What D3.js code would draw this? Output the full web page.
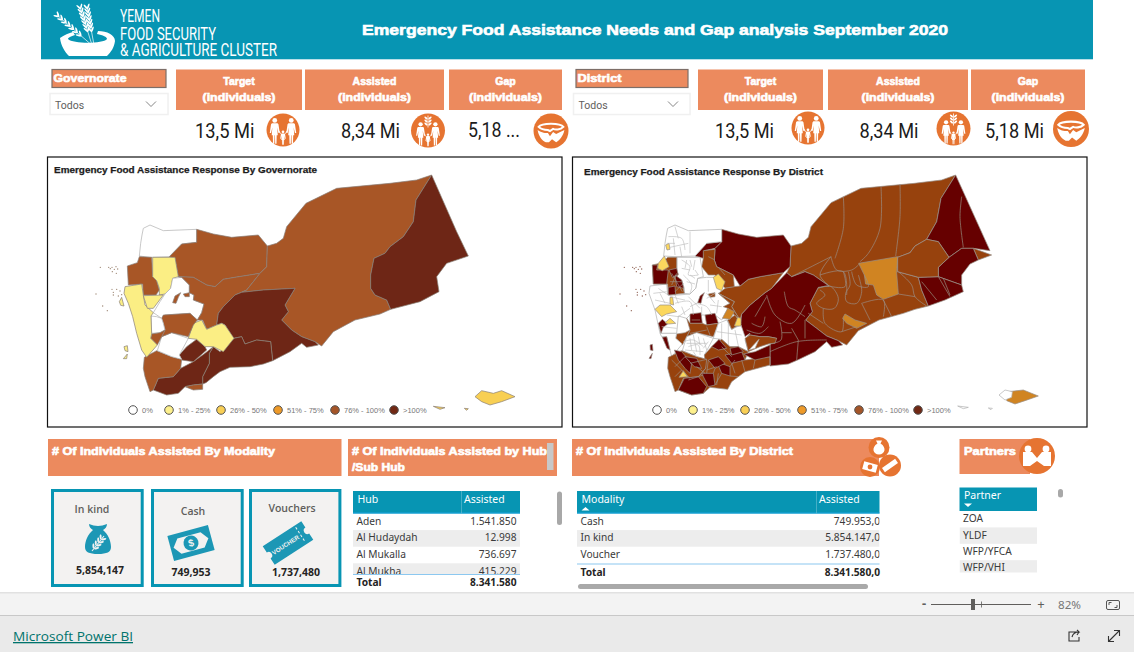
<!DOCTYPE html>
<html><head><meta charset="utf-8">
<script src="https://cdn.jsdelivr.net/npm/d3@7/dist/d3.min.js"></script>
<style>html,body{margin:0;padding:0;background:#fff;overflow:hidden}svg{display:block}</style>
</head><body><svg id="c" width="1134" height="652"><defs><filter id="soft" x="-2%" y="-2%" width="104%" height="104%"><feGaussianBlur stdDeviation="0.35"/></filter></defs></svg>
<script>
const reportTitle = "Emergency Food Assistance Needs and Gap analysis September 2020";
const kpiNames = ["Target","Assisted","Gap"];
const kpiValuesGovernorate = ["13,5 Mi","8,34 Mi","5,18 ..."];
const kpiValuesDistrict = ["13,5 Mi","8,34 Mi","5,18 Mi"];
const modalityCards = ["In kind","Cash","Vouchers"];
const modalityCardValues = [5854147,749953,1737480];
const hubNames = ["Aden","Al Hudaydah","Al Mukalla","Al Mukha"];
const hubValues = [1541850,12998,736697,415229];
const hubTotal = 8341580;
const modalityNames = ["Cash","In kind","Voucher"];
const modalityValues = [749953,5854147,1737480];
const modalityTotal = 8341580;
const partnerNames = ["ZOA","YLDF","WFP/YFCA","WFP/VHI"];
const legendBands = ["0%","1% - 25%","26% - 50%","51% - 75%","76% - 100%",">100%"];

// ---------- map geometry, in map units, band = index in legendBands ----------
const governorateShapes = [
 [0,[280,205,300,195,340,212,440,208,440,247,395,252,358,290,300,292,268,288,272,250,276,225]],
 [4,[440,208,490,222,545,232,625,225,652,258,650,320,630,340,555,352,520,358,495,380,470,375,430,352,385,350,375,295,358,290,395,252,440,247]],
 [4,[268,290,305,292,308,350,320,362,328,390,318,405,280,405,278,372,235,375,232,318,262,308]],
 [1,[308,292,375,292,385,350,368,355,362,385,345,402,328,405,328,385,320,362,308,350]],
 [0,[368,355,395,352,418,375,418,398,432,405,430,420,462,432,455,458,442,480,420,460,345,465,335,475,310,458,330,425,345,402,362,385]],
 [4,[368,428,375,408,392,398,385,412,378,430]],
 [4,[400,402,418,398,418,410,405,410]],
 [4,[385,350,430,352,470,375,495,380,520,358,555,352,630,340,590,390,555,405,520,440,505,460,500,495,470,508,458,480,442,480,455,458,462,432,430,420,432,405,418,398,418,375,395,352]],
 [4,[1145,45,1098,120,1090,185,1060,230,1020,260,1005,280,972,295,962,345,962,385,975,405,1010,420,1022,448,990,462,915,480,850,515,815,558,795,545,755,530,725,510,695,480,715,455,705,435,735,385,640,390,575,397,590,390,630,340,650,320,652,258,680,250,700,235,710,200,768,130,860,85,1020,70,1100,60]],
 [5,[1145,45,1220,215,1255,288,1190,310,1160,350,1167,395,1110,425,1022,448,1010,420,975,405,962,385,962,345,972,295,1005,280,1020,260,1060,230,1090,185,1098,120]],
 [5,[575,397,640,390,735,385,705,435,715,455,695,480,725,510,755,530,795,545,805,555,770,562,755,550,720,575,668,602,662,545,620,540,585,552,575,530,550,535,525,495,515,490,500,495,505,460,520,440,555,405]],
 [5,[490,560,510,575,552,535,575,530,585,552,620,540,662,545,668,602,640,612,600,620,540,622,510,635,490,650,468,668,458,672,458,650,478,610,478,580]],
 [5,[310,690,325,655,370,650,392,625,430,605,465,580,490,560,478,580,478,610,458,650,458,672,430,675,405,680,385,700,350,705]],
 [4,[405,680,430,675,458,672,458,688,430,690]],
 [4,[283,592,320,572,365,590,395,598,392,625,370,650,325,655,310,690,300,695,285,650,280,625]],
 [5,[388,585,410,560,440,538,465,560,470,570,430,605,395,600]],
 [0,[322,572,335,530,365,518,415,535,388,585,395,598,365,590]],
 [1,[415,535,430,490,455,480,470,508,500,495,515,490,525,495,552,535,520,575,490,560,465,560,440,538]],
 [4,[340,465,420,460,442,480,430,495,415,530,365,518,335,530,345,510,340,490,335,475]],
 [0,[303,468,320,470,335,475,340,490,345,510,330,518,305,520]],
 [4,[305,522,330,518,345,510,335,530,322,555,302,535]],
 [1,[225,380,275,372,280,405,285,435,310,458,303,468,305,522,302,535,322,555,290,592,275,570,260,520,248,470,235,430,222,400]],
 [1,[280,407,340,405,310,445,292,445]],
 [1,[208,425,215,412,222,438,212,436]],
 [1,[222,560,232,557,234,575,225,572]],
 [1,[220,596,232,582,230,596]],
 [2,[1275,710,1295,692,1330,700,1355,692,1395,710,1355,725,1320,735,1295,725]],
 [2,[1150,739,1185,743,1170,748]],
 [2,[1243,745,1255,746,1250,751]]
];
const districtShapes = [
 [4,[1142,45,1098,115,1085,185,1055,238,1020,258,1005,278,968,292,968,335,1030,352,1040,390,1060,438,1020,448,985,460,912,480,850,512,815,555,790,542,755,528,725,505,692,480,712,455,705,430,730,382,762,378,715,345,690,335,650,350,635,338,645,320,648,258,680,250,700,232,708,200,768,128,858,85,1018,70,1100,60]],
 [5,[1142,45,1245,272,1195,265,1160,265,1122,292,1090,245,1055,238,1085,185,1098,115]],
 [4,[1195,265,1250,285,1210,300]],
 [5,[1122,292,1160,265,1195,265,1210,300,1185,312,1160,345,1160,375,1090,350,1090,322]],
 [5,[1030,352,1090,350,1160,375,1165,395,1110,420,1060,438,1040,390]],
 [4,[1055,238,1090,245,1122,292,1090,322,1090,350,1030,352,968,335,968,292,1005,278,1020,258]],
 [3,[851,310,968,290,965,340,970,402,925,418,905,405,895,375,872,372,868,345]],
 [3,[810,462,840,480,875,490,845,505,815,490,803,475]],
 [5,[635,338,650,350,690,335,715,345,762,378,730,382,705,430,712,455,692,480,725,505,755,528,790,542,803,555,770,562,755,545,720,575,668,600,640,612,585,618,585,555,605,535,580,530,555,530,525,525,510,535,495,500,500,462,525,435,570,398,590,385]],
 [4,[625,338,590,385,570,398,525,435,500,462,495,480,470,440,478,425,430,400,445,385,475,380,495,378,520,358,555,350]],
 [5,[440,208,490,222,545,232,625,225,648,258,645,320,625,338,555,350,520,358,495,378,475,345,425,320,418,300,420,265,440,245]],
 [5,[360,288,395,250,440,245,420,265,388,272,385,295]],
 [4,[385,272,420,268,418,300,425,320,475,345,478,380,445,385,420,345,400,345,380,320,385,295]],
 [0,[278,205,300,195,340,212,440,208,440,245,395,250,360,288,300,290,266,288,270,250,274,225]],
 [0,[225,378,275,372,278,405,310,405,345,402,362,385,368,355,395,352,418,352,450,385,430,400,465,430,455,460,440,480,420,465,345,465,335,475,310,468,305,520,255,520,240,450,222,400]],
 [0,[306,292,375,292,385,350,368,355,362,385,345,402,328,400,328,385,320,360,306,350]],
 [4,[278,292,305,292,305,350,320,362,328,400,280,405,278,372,235,372,232,315,262,308]],
 [5,[232,315,248,315,245,330,280,330,275,372,235,372]],
 [5,[282,330,305,325,310,345,292,352]],
 [5,[300,345,320,360,326,385,305,380]],
 [5,[280,382,300,378,302,403,280,405]],
 [2,[250,310,268,288,282,320,262,332,248,325]],
 [2,[272,255,282,250,285,268,276,270]],
 [2,[415,352,430,342,450,365,440,392,425,385]],
 [5,[368,428,375,408,388,398,382,412,378,430]],
 [4,[430,400,478,425,470,440,495,480,478,465,458,445,445,440,465,430]],
 [4,[400,402,420,398,420,410,405,412]],
 [5,[345,462,378,458,382,490,345,490]],
 [5,[390,465,420,460,430,490,395,495]],
 [4,[335,475,345,490,382,490,395,495,430,490,415,530,365,518,335,530,345,510]],
 [5,[250,490,262,478,278,492,265,502,258,520]],
 [2,[240,448,255,435,285,435,305,455,275,462,260,470]],
 [2,[285,412,293,412,296,435,285,432]],
 [2,[270,488,285,475,302,490,280,492]],
 [4,[305,522,330,518,345,510,335,530,322,555,302,535]],
 [0,[255,520,305,520,302,535,322,552,290,590,285,570,275,530,260,530]],
 [5,[262,532,275,530,285,570,276,565]],
 [0,[322,572,335,530,365,518,415,535,388,585,395,598,365,590]],
 [0,[415,535,430,490,455,480,470,508,498,495,510,530,525,520,510,540,520,575,490,560,465,560,440,538]],
 [4,[458,480,480,465,498,490,470,508]],
 [3,[442,475,458,445,478,455,465,478]],
 [2,[478,498,488,472,498,475,498,498]],
 [4,[510,535,525,525,555,530,580,530,605,535,600,550,580,552,555,560,520,575]],
 [0,[522,570,552,538,540,565]],
 [4,[388,585,410,560,440,538,465,560,490,560,520,575,510,600,585,590,585,615,510,635,470,665,458,688,405,682,385,700,350,705,310,690,325,655,370,650,392,625]],
 [4,[280,592,320,572,365,590,395,598,392,625,370,650,325,655,310,690,300,695,285,650,278,625]],
 [5,[298,570,320,575,350,610,345,640,330,625,310,600]],
 [5,[330,590,365,595,380,625,358,620]],
 [2,[312,652,325,632,338,650]],
 [5,[310,690,328,655,370,650,395,680,385,700,350,705]],
 [5,[380,640,415,640,420,675,400,680]],
 [5,[425,605,465,620,465,648,440,640]],
 [5,[400,600,430,590,450,610,420,625]],
 [5,[410,560,432,538,455,565,430,570]],
 [5,[450,585,500,575,510,600,470,610]],
 [5,[465,565,490,560,505,575,470,585]],
 [5,[505,582,540,575,585,555,585,590,540,600]],
 [5,[225,555,232,553,234,572,226,570]],
 [5,[222,595,232,580,228,596]],
 [3,[1300,695,1345,690,1390,708,1350,722,1320,732,1295,722]],
 [0,[1272,705,1290,690,1312,695,1310,712,1290,720]],
 [0,[1148,738,1180,742,1165,746]],
 [0,[1240,744,1252,745,1248,749]]
];
const colouredDistrictLines = [
 [805,110,805,205,780,295],[918,80,915,205,880,280,855,305],[975,72,975,170,962,288],
 [768,290,705,322,650,350],[768,290,735,345,760,375],[768,290,785,330,830,330,855,310],
 [735,345,805,335,815,405],[805,335,810,380,760,378],[820,335,825,375,812,400,815,425,845,430,860,395,850,345],
 [830,335,845,375,880,380,868,345],[730,385,765,378,790,415,778,445,745,445,725,430,750,405,735,390],
 [745,445,750,490,800,515,805,475],[700,460,745,490],[860,430,925,420,925,470],[925,420,950,470],
 [970,335,1010,375,1020,410,1055,438],[970,402,1020,410],[860,430,885,480],[800,515,845,500],
 [1160,110,1155,170,1165,262],[1090,350,1125,410],[1040,365,1085,420],[1105,355,1125,405],
 [575,405,600,465,650,490,690,435],[628,395,640,440,660,450,690,470],[615,485,618,540,580,552],[650,505,670,540],
 [620,518,650,518],[670,540,665,600],[585,575,665,545,755,540],[690,480,690,535],[540,470,575,410],
 [530,490,560,500,570,470],[515,510,555,520,580,500],[430,322,450,345],[400,290,420,300],
 [290,340,322,395],[285,365,320,365],[295,355,310,340],[305,340,290,375],[300,395,325,370],
 [290,600,345,655],[330,590,300,620],[320,630,300,650],[345,610,395,598],[365,620,390,640],
 [400,600,395,640],[420,625,415,640],[440,640,420,675],[465,620,480,600],[465,648,490,650],[425,675,430,640],
 [540,600,535,625],[500,600,510,635],[470,610,480,640],[585,590,585,615],
 [350,480,375,480],[345,520,395,510],[395,500,405,525],[440,560,470,590],[395,630,425,620],[340,660,385,645]
];
const whiteDistrictLines = [
 [345,215,345,280],[280,230,320,235,330,270],[300,200,310,235],[285,262,340,250],[275,250,300,250],[295,235,300,285],[315,260,320,290],
 [320,300,345,320,340,345,370,345],[345,300,350,320],[320,325,345,330],[325,345,350,375,345,400],[360,330,370,345],
 [335,300,330,325],[360,300,355,330],[345,345,360,355],[335,365,360,372],
 [250,385,290,410,330,420],[240,420,285,430],[300,430,345,425,355,465],[320,440,330,465],[360,430,395,440,410,465],
 [395,400,420,430],[440,440,405,435],[310,470,345,445],[275,465,310,470],[260,500,305,505],
 [400,360,400,395],[420,400,395,415],[340,410,375,445],[300,405,310,430],[235,400,275,395],[255,400,270,430],
 [380,440,380,465],[345,440,365,430],[430,420,425,460],
 [325,545,355,540,385,560],[340,560,370,555,375,585],[355,525,365,575],[385,535,395,570],[330,570,385,575],
 [345,535,350,570],[370,530,375,555],[335,550,395,550],[355,575,365,590],[400,545,385,565],
 [440,490,440,535],[460,490,460,555],[480,510,490,558],[425,515,500,525]
];
const seaIslets = [
 [176,322],[186,322],[198,320],[181,326],[193,328],[203,327],[187,335],[199,340],[151,322],
 [186,388],[200,388],[190,397],[210,393],[190,405],[205,408],[215,404],[138,402],[158,438],[172,452]
];

// ---------- palette / scales ----------
const svg = d3.select("#c");
const TEAL="#0795b3", SALMON="#ec8a5e", ICON="#e67431", INK="#252423", GREY="#605e5c";
const SANS="'Noto Sans','Open Sans',sans-serif", HEAVY="'Liberation Sans',Arial,sans-serif";
const govColour = d3.scaleOrdinal().domain(d3.range(6)).range(["#ffffff","#fbee84","#f8cf52","#ec9a28","#a85628","#6e2713"]);
const disColour = d3.scaleOrdinal().domain(d3.range(6)).range(["#ffffff","#fbee84","#fbd75d","#d08420","#97430f","#660500"]);
const legendColour = d3.scaleOrdinal().domain(d3.range(6)).range(["#ffffff","#fdf08c","#f9cf55","#ee9a29","#a45528","#702814"]);
const euro = d3.formatLocale({decimal:",",thousands:".",grouping:[3],currency:["",""]});
const fmtCard = d3.format(","), fmtInt = euro.format(",.0f"), fmtDec = euro.format(",.1f");

function T(g,x,y,s,o={}){
  const t=g.append("text").attr("x",x).attr("y",y).text(s)
    .attr("font-family",o.font||SANS).attr("font-size",o.size||11).attr("fill",o.fill||INK)
    .attr("text-anchor",o.anchor||"start").attr("font-weight",o.weight||400);
  if(o.stroke) t.attr("stroke",o.stroke).attr("stroke-width",o.sw||.35);
  if(o.len) t.attr("textLength",o.len).attr("lengthAdjust","spacingAndGlyphs");
  if(o.deco) t.attr("text-decoration",o.deco);
  return t;
}
const R=(g,x0,y0,x1,y1,fill,o={})=>g.append("rect").attr("x",x0).attr("y",y0).attr("width",x1-x0).attr("height",y1-y0)
   .attr("fill",fill).attr("stroke",o.stroke||"none").attr("stroke-width",o.sw||1);
const heavy=(g,x,y,s,len,size=10.5,anchor="start")=>T(g,x,y,s,{font:HEAVY,weight:700,fill:"#fff",stroke:"#fff",sw:.6,size,len,anchor});

// ---------- header ----------
R(svg,41,0,1093,59,TEAL);
R(svg,41,59,1093,60,"#b9dfe8");
const logo=svg.append("g");
logo.append("path").attr("fill","#fff").attr("d","M60 38 C64 35 69 33 73 32 L75 35 C71 36 68 38 68 39 C73 44 103 44 107 39 C107 37 103 35 97 34 L98 31 C107 31 115 35 115 41 C114 48 111 52 107 56 L69 56 C65 52 61 46 60 38Z");
[[94,47,57,15],[92,45,80,7],[94,45,87,7]].forEach(([x1,y1,x2,y2])=>{
  logo.append("line").attr("x1",x1).attr("y1",y1).attr("x2",x2).attr("y2",y2).attr("stroke","#fff").attr("stroke-width",.7);
  const ang=Math.atan2(y2-y1,x2-x1)*180/Math.PI;
  d3.range(0.35,0.98,0.1).forEach(f=>{
    const cx=x1+(x2-x1)*f, cy=y1+(y2-y1)*f;
    [-30,30].forEach(d=>logo.append("ellipse").attr("rx",3).attr("ry",.9).attr("fill","#fff")
      .attr("transform",`translate(${cx},${cy}) rotate(${ang+d}) translate(2.6,0)`));
  });
});
const ROB="Roboto,sans-serif";
T(svg,120,22,"YEMEN",{font:ROB,size:19,fill:"#fff",len:40});
T(svg,120,39.5,"FOOD SECURITY",{font:ROB,size:19,fill:"#fff",len:96});
T(svg,120,56,"& AGRICULTURE CLUSTER",{font:ROB,size:19,fill:"#fff",len:157});
heavy(svg,362,35,reportTitle,586,15);

// ---------- icons ----------
const icon={
  people(cx,cy,k){
    [[-8.5,-7,1.12],[8.5,-7,1.12],[0,3.5,.62]].forEach(([dx,dy,s])=>{
      const w=svg.append("g").attr("transform",`translate(${cx+dx*k},${cy+dy*k}) scale(${k*s})`).attr("fill","#fff");
      w.append("circle").attr("cy",-2.6).attr("r",2.2);
      w.append("path").attr("d","M-2.6 0 L2.6 0 L3.4 1 L4.6 9 L3.4 9 L2.2 4 L2.8 11 L1.8 11 L1.6 19 L.4 19 L.2 11 L-.2 11 L-.4 19 L-1.6 19 L-1.8 11 L-2.8 11 L-2.2 4 L-3.4 9 L-4.6 9 L-3.4 1Z");
    });
    svg.append("path").attr("d",`M${cx-4*k} ${cy+1*k} L${cx-2.5*k} ${cy+4*k} M${cx+4*k} ${cy+1*k} L${cx+2.5*k} ${cy+4*k}`).attr("stroke","#fff").attr("stroke-width",.8*k);
  },
  family(cx,cy,r){ svg.append("circle").attr("cx",cx).attr("cy",cy).attr("r",r).attr("fill",ICON); this.people(cx,cy,r/17); },
  familyWheat(cx,cy,r){
    svg.append("circle").attr("cx",cx).attr("cy",cy).attr("r",r).attr("fill",ICON); this.people(cx,cy+2.5,r/19.5);
    svg.append("line").attr("x1",cx).attr("x2",cx).attr("y1",cy-15).attr("y2",cy-3).attr("stroke","#fff").attr("stroke-width",.8);
    d3.range(3).forEach(i=>[-1,1].forEach(s=>svg.append("ellipse").attr("rx",2).attr("ry",.9).attr("fill","#fff")
      .attr("transform",`translate(${cx+s*2},${cy-12.5+i*3}) rotate(${s*-40})`)));
  },
  bowl(cx,cy,r){
    svg.append("circle").attr("cx",cx).attr("cy",cy).attr("r",r).attr("fill",ICON);
    const k=r/17;
    const g=svg.append("g").attr("transform",`translate(${cx},${cy}) scale(${k})`);
    g.append("path").attr("fill","none").attr("stroke","#fff").attr("stroke-width",2).attr("d","M-12 -4 C-9 -8 9 -8 12 -4 C9 -1 4 -1 2 -2 L-1 0 L-3 -1 C-7 -1 -10 -2 -12 -4Z");
    g.append("path").attr("fill","#fff").attr("d","M-13 -1 C-9 2 -5 2 -3 2 L-1 5 L2 1 L5 3 L13 -1 C12 5 8 9 5 11 L1 8 L-2 11 L-5 11 C-9 9 -12 5 -13 -1Z");
  }
};

// ---------- slicers and KPI cards ----------
function topBlock(o){
  R(svg,o.sx0,o.sy0,o.sx1,o.sy0+18,SALMON,{stroke:"#7d6e68",sw:1.2});
  heavy(svg,o.sx0+1.5,o.sy0+12,o.slicer,o.slen,10.5);
  R(svg,o.dx0,o.dy0,o.dx1,o.dy0+21,"#fff",{stroke:"#f0f0f0",sw:1.5});
  T(svg,o.dx0+5,o.dy0+15,"Todos",{size:10.5,fill:GREY,font:"Roboto,sans-serif"});
  const cx=o.dx1-17, cy=o.dy0+8;
  svg.append("path").attr("d",`M${cx-5} ${cy} L${cx} ${cy+5} L${cx+5} ${cy}`).attr("fill","none").attr("stroke","#777").attr("stroke-width",.9);
  o.cards.forEach((c,i)=>{
    R(svg,c[0],o.sy0,c[1],o.sy0+40.5,SALMON);
    const mid=(c[0]+c[1])/2;
    heavy(svg,mid,o.sy0+15,kpiNames[i],null,10.5,"middle");
    heavy(svg,mid,o.sy0+31,"(individuals)",73,10.5,"middle");
    T(svg,o.vals[i][0],o.vals[i][2],o.values[i],{font:"Roboto,sans-serif",size:20,fill:"#1b1b1b",len:o.vals[i][1]-o.vals[i][0]});
    icon[i===0?"family":i===1?"familyWheat":"bowl"](o.icons[i][0],o.icons[i][1],o.icons[i][2]);
  });
}
topBlock({slicer:"Governorate",slen:73,sx0:52,sx1:166,sy0:69.5,dx0:50,dx1:168,dy0:93.5,
  cards:[[176,302],[305,444],[449,562]],values:kpiValuesGovernorate,
  vals:[[195,254.5,138],[341,400,138],[468,520,137]],icons:[[283,130,16.5],[428,130.5,17],[551,131,17.5]]});
topBlock({slicer:"District",slen:44,sx0:576,sx1:688,sy0:69.5,dx0:573.5,dx1:690,dy0:93.5,
  cards:[[698,823],[828,968],[971,1085]],values:kpiValuesDistrict,
  vals:[[715,774,138],[859.5,918.5,138],[985,1044,138]],icons:[[808,128,16.5],[953.5,128.5,17],[1071,129,18]]});

// ---------- maps ----------
function drawMap(o){
  const g=svg.append("g");
  R(g,o.px0,157,o.px1,427,"#fff",{stroke:"#111",sw:1.2});
  T(g,o.tx,o.ty,o.title,{font:HEAVY,weight:700,size:9,fill:"#1c1c1c",stroke:"#1c1c1c",sw:.25,len:o.tlen});
  const x=d3.scaleLinear().domain([0,1530]).range([o.ox,o.ox+510]);
  const y=d3.scaleLinear().domain([0,795]).range([160,425]);
  const line=d3.line().curve(d3.curveLinearClosed);
  const pts=a=>d3.range(0,a.length,2).map(i=>[x(a[i]),y(a[i+1])]);
  const m=g.append("g").attr("filter","url(#soft)");
  m.selectAll("path.r").data(o.shapes).join("path").attr("class","r")
    .attr("d",d=>line(pts(d[1]))).attr("fill",d=>o.colour(d[0]))
    .attr("stroke",d=>d[0]===0?"#b0b0b0":o.edge).attr("stroke-width",.7).attr("stroke-linejoin","round");
  const open=d3.line().curve(d3.curveCatmullRom.alpha(.5));
  if(o.lines) m.selectAll("path.b").data(o.lines).join("path").attr("class","b").attr("d",d=>open(pts(d)))
      .attr("fill","none").attr("stroke","#9a8f88").attr("stroke-width",.65);
  if(o.whiteLines) m.selectAll("path.w").data(o.whiteLines).join("path").attr("class","w").attr("d",d=>open(pts(d)))
      .attr("fill","none").attr("stroke","#bdbdbd").attr("stroke-width",.65);
  m.selectAll("circle.i").data(seaIslets).join("circle").attr("class","i")
    .attr("cx",d=>x(d[0]-o.dx)).attr("cy",d=>y(d[1])).attr("r",.7).attr("fill",o.islet);
  o.legendX.forEach((lx,i)=>{
    g.append("circle").attr("cx",lx).attr("cy",410).attr("r",4.3).attr("fill",legendColour(i)).attr("stroke","#555").attr("stroke-width",1);
    T(g,lx+9,413,legendBands[i],{size:7.5,fill:"#777",font:"'Liberation Sans',sans-serif"});
  });
}
drawMap({px0:47.5,px1:562,tx:54,ty:173,tlen:263,title:"Emergency Food Assistance Response By Governorate",ox:50,
  shapes:governorateShapes,colour:govColour,edge:"#8a7f78",dx:0,islet:"#a08a78",legendX:[133,169,221,278,335,394]});
drawMap({px0:572.5,px1:1087,tx:584,ty:175,tlen:239,title:"Emergency Food Assistance Response By District",ox:575,
  shapes:districtShapes,colour:disColour,edge:"#9a8f88",lines:colouredDistrictLines,whiteLines:whiteDistrictLines,dx:3,islet:"#94685a",legendX:[657,693,745,802,859,918]});

// ---------- section headers ----------
R(svg,48,439,341.5,476,SALMON);
heavy(svg,52,455,"# Of Individuals Assisted By Modality",223,10.5);
R(svg,348,439,557,476,SALMON);
heavy(svg,352,455,"# Of Individuals Assisted by Hub",195,10.5);
heavy(svg,352,471,"/Sub Hub",53,10.5);
R(svg,547,443,553.5,470,"#c8c8c8");
R(svg,572,439,879,476,SALMON);
heavy(svg,576,455,"# Of Individuals Assisted By District",217,10.5);
R(svg,959.5,439,1030,474,SALMON);
heavy(svg,964,455,"Partners",52,10.5);
[[879,447.5,10.5],[870,467,10],[890,465.5,11]].forEach(([cx,cy,r],i)=>{
  svg.append("circle").attr("cx",cx).attr("cy",cy).attr("r",r).attr("fill",ICON);
  if(i===0) svg.append("path").attr("fill","#fff").attr("d",`M${cx-3} ${cy-7} L${cx+3} ${cy-7} L${cx+1.5} ${cy-4} C${cx+8} ${cy} ${cx+6} ${cy+7} ${cx} ${cy+7} C${cx-6} ${cy+7} ${cx-8} ${cy} ${cx-1.5} ${cy-4}Z`);
  if(i===1) { svg.append("rect").attr("x",cx-7).attr("y",cy-4).attr("width",14).attr("height",8).attr("fill","#fff").attr("transform",`rotate(15 ${cx} ${cy})`);
              svg.append("circle").attr("cx",cx).attr("cy",cy).attr("r",2.4).attr("fill",ICON); }
  if(i===2) svg.append("rect").attr("x",cx-8).attr("y",cy-2.5).attr("width",16).attr("height",5).attr("fill","#fff").attr("transform",`rotate(-35 ${cx} ${cy})`);
});
svg.append("circle").attr("cx",1037).attr("cy",456).attr("r",18).attr("fill",ICON);
[[-9,-7],[9,-7]].forEach(([dx,dy])=>svg.append("circle").attr("cx",1037+dx).attr("cy",456+dy).attr("r",3.4).attr("fill","#fff"));
svg.append("path").attr("fill","#fff").attr("d","M1023 452 L1032 452 L1037 458 L1042 452 L1051 452 L1051 466 L1044 466 L1037 461 L1030 466 L1023 466Z");

// ---------- modality cards ----------
const cardBoxes=[[51,143.7],[151,243.7],[249,341.4]];
const labelY=[513,515,512], valueY=[574,576,576], valueX=[100,191,296], labelX=[92,193,292];
modalityCards.forEach((name,i)=>{
  const [a,b]=cardBoxes[i];
  R(svg,a+1.5,490.5,b-1.5,585.5,"#f3f2f1",{stroke:TEAL,sw:3});
  T(svg,labelX[i],labelY[i],name,{anchor:"middle",size:10.5,weight:600,fill:"#605e5c",font:"'Open Sans',sans-serif"});
  T(svg,valueX[i],valueY[i],fmtCard(modalityCardValues[i]),{anchor:"middle",size:10.5,weight:700,fill:"#252423",font:"'Open Sans',sans-serif"});
});
const C2="#1c97b5";
svg.append("path").attr("fill",C2).attr("d","M89 524 C92 525 95 526 98 526 C101 526 104 525 107 524 C107 527 105 529 103 530 C108 534 111 541 111 547 C111 552 107 554 98 554 C89 554 85 552 85 547 C85 541 88 534 93 530 C91 529 89 527 89 524Z");
svg.append("path").attr("d","M92 551 L104 536").attr("stroke","#f3f2f1").attr("stroke-width",1.1);
d3.range(4).forEach(i=>[-1,1].forEach(s=>svg.append("ellipse").attr("rx",2.6).attr("ry",1).attr("fill","#f3f2f1")
  .attr("transform",`translate(${95+i*2.4+s*1.6},${547-i*3-s*-1.2}) rotate(${-52+s*38})`)));
const cash=svg.append("g").attr("transform","translate(191,543) rotate(-15)");
cash.append("rect").attr("x",-21).attr("y",-13).attr("width",42).attr("height",26).attr("fill",C2);
cash.append("path").attr("d","M-18 0 L-12 -8 L12 -8 L18 0 L12 8 L-12 8Z").attr("fill","#f3f2f1");
cash.append("circle").attr("r",7.5).attr("fill",C2);
T(cash,0,3.5,"$",{anchor:"middle",size:10,weight:700,fill:"#f3f2f1",font:HEAVY});
const vou=svg.append("g").attr("transform","translate(288,543) rotate(-33)");
vou.append("path").attr("fill",C2).attr("d","M-23 -11 L23 -11 L23 -3.5 A3.5 3.5 0 0 0 23 3.5 L23 11 L-23 11 L-23 3.5 A3.5 3.5 0 0 0 -23 -3.5Z");
T(vou,-3,2.5,"VOUCHER",{anchor:"middle",size:6.2,weight:700,fill:"#f3f2f1",font:HEAVY});
vou.append("line").attr("x1",15).attr("x2",15).attr("y1",-9).attr("y2",9).attr("stroke","#f3f2f1").attr("stroke-dasharray","2.5 2");

// ---------- tables ----------
function table(o){
  const g=svg.append("g");
  const id="clip"+o.x0;
  svg.append("clipPath").attr("id",id).append("rect").attr("x",o.x0).attr("y",o.hy0).attr("width",o.x1-o.x0).attr("height",o.clipY-o.hy0);
  const body=g.append("g").attr("clip-path",`url(#${id})`);
  R(g,o.x0,o.hy0,o.x1,o.hy1,TEAL);
  if(o.blue) R(g,o.x0,o.hy1-1,o.x1,o.hy1,"#1aa4e0");
  T(g,o.x0+4.5,o.hy0+11.5,o.col1,{fill:"#fff",size:10.5,font:SANS});
  if(o.col2){
    R(g,o.div,o.hy0,o.div+.6,o.hy1,"#6fc0d3");
    T(g,o.div+3,o.hy0+11.5,o.col2,{fill:"#fff",size:10.5,font:SANS});
  }
  if(o.arrow==="up") g.append("path").attr("d",`M${o.x0+4.5} ${o.hy0+19.5} l4 -3.5 l4 3.5z`).attr("fill","#fff");
  if(o.arrow==="down") g.append("path").attr("d",`M${o.x0+4.5} ${o.hy0+16} l4 3.5 l4 -3.5z`).attr("fill","#fff");
  const y=d3.scaleBand().domain(d3.range(o.rows.length)).range([o.hy1,o.hy1+o.rows.length*o.step]);
  o.rows.forEach((r,i)=>{
    if(i%2===1) R(body,o.x0,y(i),o.x1,y(i)+o.step,"#ededed");
    T(body,o.x0+3.5,y(i)+o.step/2+3,r,{size:10.2,fill:"#3a3a3a",font:SANS});
    if(o.vals) T(body,o.vx,y(i)+o.step/2+3,o.vals[i],{size:10.2,anchor:"end",fill:"#3a3a3a",font:SANS});
  });
  if(o.totalY){
    R(g,o.x0,o.lineY,o.x1,o.lineY+1,"#8cc8f0");
    T(g,o.x0+3.5,o.totalY,"Total",{size:10.2,weight:700,font:SANS});
    T(g,o.vx,o.totalY,o.total,{size:10.2,weight:700,anchor:"end",font:SANS});
  }
}
table({x0:353,x1:520,hy0:491,hy1:513.5,div:461,col1:"Hub",col2:"Assisted",rows:hubNames,vals:hubValues.map(fmtInt),step:16.6,vx:516.5,clipY:574,lineY:574,totalY:586,total:fmtInt(hubTotal),blue:true});
table({x0:577,x1:879.5,hy0:491,hy1:513.5,div:816,col1:"Modality",col2:"Assisted",rows:modalityNames,vals:modalityValues.map(fmtDec),step:16.6,vx:880,clipY:564,lineY:563.5,totalY:576,total:fmtDec(modalityTotal),arrow:"up",blue:true});
table({x0:959.5,x1:1037,hy0:487.5,hy1:511,col1:"Partner",rows:partnerNames,step:16.4,clipY:572.5,arrow:"down"});
svg.append("rect").attr("x",557).attr("y",491.5).attr("width",5).attr("height",33.5).attr("rx",2.5).attr("fill","#a8a8a8");
svg.append("rect").attr("x",578).attr("y",584).attr("width",290).attr("height",5).attr("rx",2.5).attr("fill","#a9a9a9");
svg.append("rect").attr("x",1058).attr("y",489).attr("width",5).attr("height",8.5).attr("rx",2.5).attr("fill","#a8a8a8");

// ---------- Power BI chrome ----------
R(svg,0,592,1134,615,"#f3f3f3");
R(svg,0,592,1134,593.5,"#e1e1e1");
R(svg,0,615,1134,652,"#eaeaea");
R(svg,0,615,1134,616,"#c8c8c8");
T(svg,924,608,"-",{anchor:"middle",size:13,fill:"#605e5c",weight:700});
R(svg,931,604,1031,605,"#605e5c");
R(svg,971,599,975,610,"#605e5c");
R(svg,981,601.5,981.8,607.5,"#605e5c");
T(svg,1041,609,"+",{anchor:"middle",size:13,fill:"#605e5c"});
T(svg,1058,609,"82%",{size:11,fill:"#777",font:SANS,len:23});
svg.append("rect").attr("x",1106.5).attr("y",600.5).attr("width",13).attr("height",9).attr("rx",1.5).attr("fill","none").attr("stroke","#555");
svg.append("path").attr("d","M1109 605 v-2.5 h2.5 M1117 605 v2.5 h-2.5").attr("fill","none").attr("stroke","#555");
T(svg,13,641,"Microsoft Power BI",{size:13,fill:"#00736c",deco:"underline",font:"'Open Sans',sans-serif",len:120});
svg.append("path").attr("d","M1077 632 h-8 v9 h10 v-4 M1072 637 c1 -4 4 -5 7 -5 l-2 -2 M1079 632 l-2 3").attr("fill","none").attr("stroke","#333").attr("stroke-width",1.1);
svg.append("path").attr("d","M1109 641 L1119 631 M1114 630.5 h5.5 v5.5 M1108.5 636 v5.5 h5.5").attr("fill","none").attr("stroke","#333").attr("stroke-width",1.1);
</script></body></html>
